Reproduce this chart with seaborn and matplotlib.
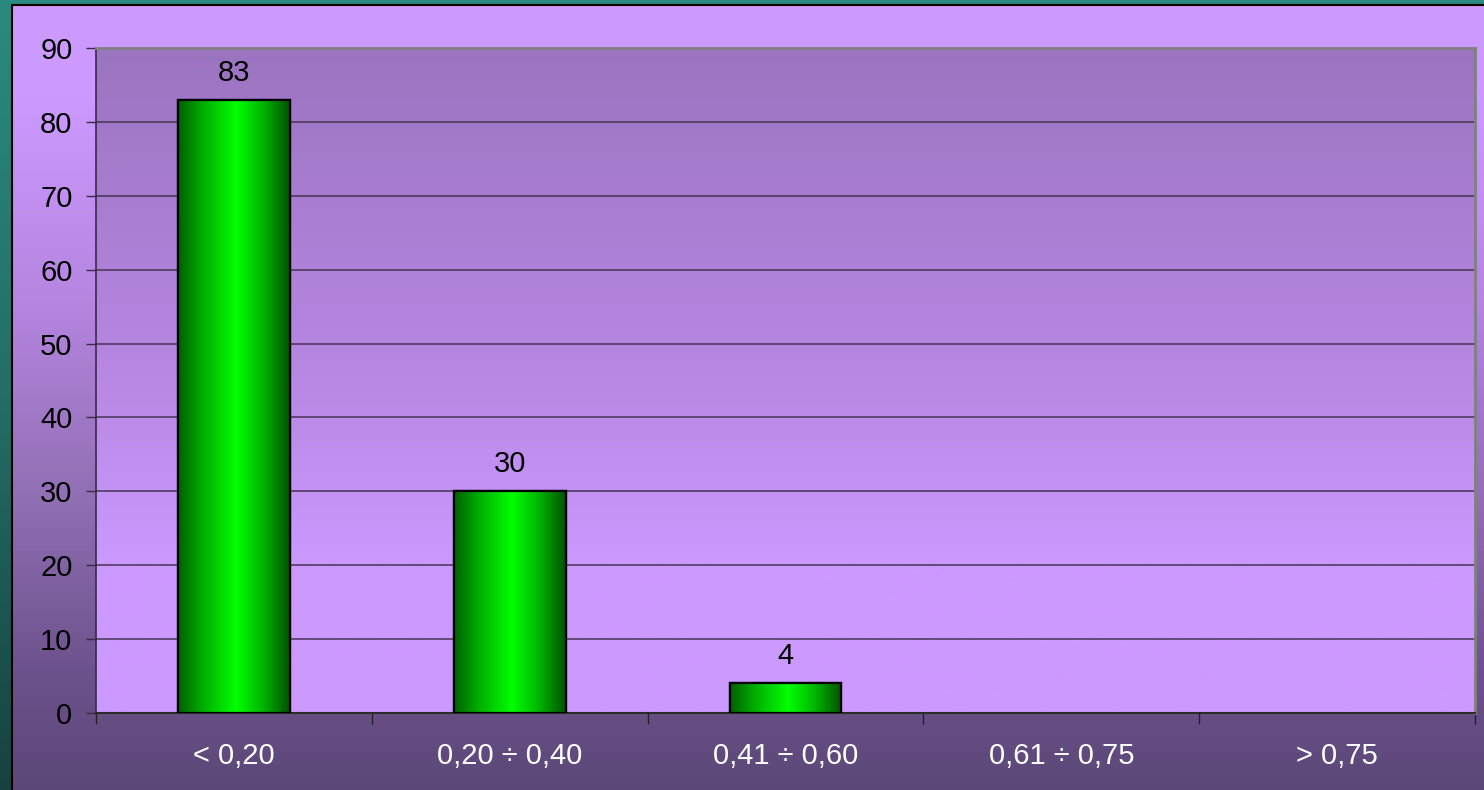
import seaborn as sns
import matplotlib.pyplot as plt
import numpy as np
import pandas as pd
from matplotlib.colors import LinearSegmentedColormap

categories = ["< 0,20", "0,20 ÷ 0,40", "0,41 ÷ 0,60", "0,61 ÷ 0,75", "> 0,75"]
counts = [83, 30, 4, 0, 0]
yticks = [0, 10, 20, 30, 40, 50, 60, 70, 80, 90]

df = pd.DataFrame({"range": categories, "count": counts})

sns.set_theme(style="white")
plt.rcParams["font.family"] = ["Liberation Sans", "DejaVu Sans"]

fig = plt.figure(figsize=(14.84, 7.90), dpi=100)

# teal frame behind everything
frame = fig.add_axes([0, 0, 1, 1], zorder=-3)
teal = LinearSegmentedColormap.from_list("teal", ["#2b8a80", "#236e66", "#17423f"])
frame.imshow(np.linspace(0, 1, 256).reshape(-1, 1), cmap=teal, aspect="auto",
             extent=[0, 1, 0, 1], origin="upper")
frame.set_axis_off()

# purple chart area
bg = fig.add_axes([12 / 1484, 0, 1 - 12 / 1484, 1 - 5 / 790], zorder=-2)
purple = LinearSegmentedColormap.from_list(
    "bg", [(0, "#cc99ff"), (0.12, "#cc99ff"), (0.38, "#b585e0"),
           (0.62, "#9270b5"), (0.85, "#6c528c"), (1, "#5c4878")])
bg.imshow(np.linspace(0, 1, 256).reshape(-1, 1), cmap=purple, aspect="auto",
          extent=[0, 1, 0, 1], origin="upper")
bg.set_xticks([])
bg.set_yticks([])
for s in ["left", "top"]:
    bg.spines[s].set_color("black")
    bg.spines[s].set_linewidth(1.5)
for s in ["right", "bottom"]:
    bg.spines[s].set_visible(False)

ax = fig.add_axes([96 / 1484, 1 - 713 / 790, (1475 - 96) / 1484, (713 - 48) / 790])

# plot area gradient
plot_cmap = LinearSegmentedColormap.from_list(
    "plot", [(0, "#9b74c0"), (0.5, "#b888e4"), (0.78, "#cc99ff"), (1, "#cc99ff")])
ax.imshow(np.linspace(0, 1, 256).reshape(-1, 1), cmap=plot_cmap, aspect="auto",
          extent=[-0.5, 4.5, 0, 90], origin="upper", zorder=0)

sns.barplot(data=df, x="range", y="count", ax=ax, color="#00ff00", width=0.405,
            edgecolor="black", linewidth=1.6, zorder=3)

green = LinearSegmentedColormap.from_list(
    "green", [(0, "#005f00"), (0.2, "#00a800"), (0.52, "#00ff00"),
              (0.75, "#00b800"), (1, "#005200")])
for p in ax.patches:
    if p.get_height() <= 0:
        p.set_linewidth(0)
        continue
    x0, w, h = p.get_x(), p.get_width(), p.get_height()
    im = ax.imshow(np.linspace(0, 1, 256).reshape(1, -1), cmap=green, aspect="auto",
                   extent=[x0, x0 + w, 0, h], zorder=3.5)
    im.set_clip_path(p)
    edge = plt.Rectangle((x0, 0), w, h, fill=False, edgecolor="black",
                         linewidth=1.6, zorder=4)
    ax.add_patch(edge)

labels = [str(v) if v > 0 else "" for v in counts]
ax.bar_label(ax.containers[0], labels=labels, padding=9.5, fontsize=21, color="black")

ax.set_xlim(-0.5, 4.5)
ax.set_ylim(0, 90)
ax.set_yticks(yticks)
ax.yaxis.grid(True, color="#463454", linewidth=1.1, zorder=1)
ax.set_axisbelow(True)

ax.set_xlabel("")
ax.set_ylabel("")
ax.tick_params(axis="y", left=True, length=7, width=1, color="#3a2a48",
               labelsize=21, labelcolor="black", pad=10)
ax.tick_params(axis="x", which="major", bottom=False, length=0, labelsize=21,
               labelcolor="white", pad=21)
ax.set_xticks(np.arange(-0.5, 5, 1), minor=True)
ax.tick_params(axis="x", which="minor", bottom=True, length=8, width=1, color="#222222")

ax.spines["top"].set_color("#808080")
ax.spines["right"].set_color("#808080")
ax.spines["top"].set_linewidth(2)
ax.spines["right"].set_linewidth(2)
ax.spines["left"].set_color("#3a2a48")
ax.spines["bottom"].set_color("#2a2a2a")
ax.spines["left"].set_linewidth(1.2)
ax.spines["bottom"].set_linewidth(1.5)

fig.savefig("out.png", dpi=100)
